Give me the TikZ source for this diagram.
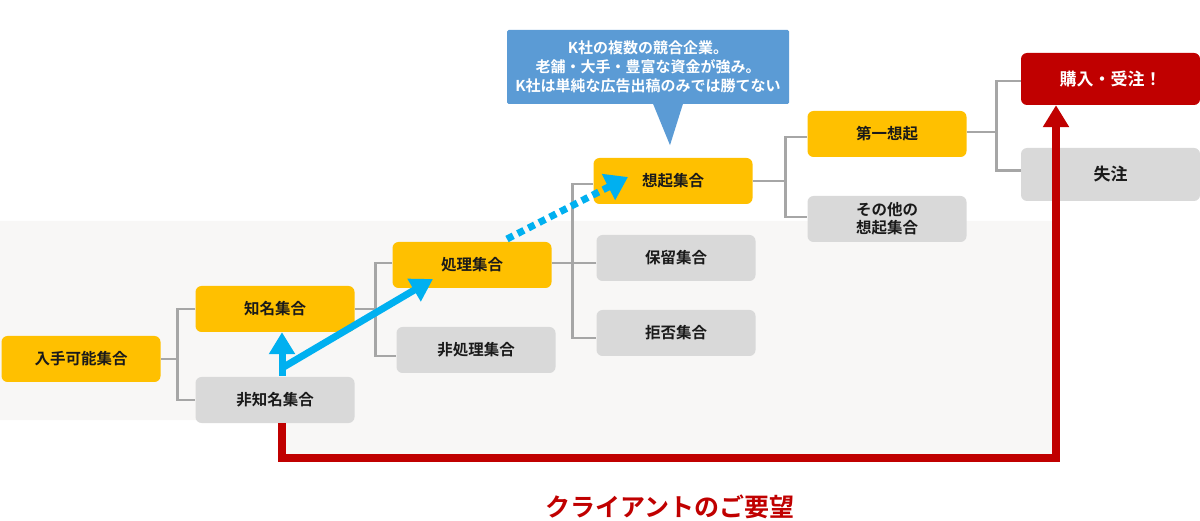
\documentclass[tikz,border=0pt]{standalone}
\usepackage{fontspec}
\setmainfont{Noto Sans CJK JP}[BoldFont={Noto Sans CJK JP Bold}]
\usetikzlibrary{arrows.meta}
\definecolor{ylw}{HTML}{FFC000}
\definecolor{gry}{HTML}{D9D9D9}
\definecolor{lnk}{HTML}{A6A6A6}
\definecolor{rd}{HTML}{C00000}
\definecolor{cyanarr}{HTML}{00B0F0}
\definecolor{calloutblue}{HTML}{5B9BD5}
\definecolor{bgc}{HTML}{F8F7F6}
\definecolor{txt}{HTML}{1A1A1A}
\tikzset{
  boxbase/.style={rectangle, rounded corners=6pt, minimum width=159pt, minimum height=46pt, inner sep=0pt, align=center, font=\fontsize{15.5}{18}\selectfont\bfseries, text=txt},
  ybox/.style={boxbase, fill=ylw},
  gbox/.style={boxbase, fill=gry},
  bigbox/.style={minimum width=179pt, font=\fontsize{17}{20}\selectfont\bfseries},
  rbox/.style={boxbase, bigbox, fill=rd, text=white, minimum height=52pt},
  link/.style={draw=lnk, line width=2.5pt},
  bluearrow/.style={draw=cyanarr, line width=7pt, -{Triangle[width=25pt,length=22pt]}},
}
\begin{document}
\begin{tikzpicture}[x=1pt,y=-1pt]
\useasboundingbox (0,0) rectangle (1200,521);
% background
\fill[bgc] (0,221) -- (1056,221) -- (1056,458) -- (282,458) -- (282,420) -- (0,420) -- cycle;

% nodes
\node[ybox] (avail) at (81,359) {入手可能集合};
\node[ybox] (known) at (275,309) {知名集合};
\node[gbox] (unknown) at (275,400) {非知名集合};
\node[ybox] (proc) at (472,265) {処理集合};
\node[gbox] (nonproc) at (476,350) {非処理集合};
\node[ybox] (recall) at (673,181) {想起集合};
\node[gbox] (hold) at (676,258) {保留集合};
\node[gbox] (reject) at (676,333) {拒否集合};
\node[ybox] (first) at (887,134) {第一想起};
\node[gbox, font=\fontsize{15.5}{18}\selectfont\bfseries] (other) at (887,219) {その他の\\想起集合};
\node[rbox] (buy) at (1110.5,79) {購入・受注！};
\node[gbox, bigbox, minimum height=53pt] (lost) at (1110.5,174.5) {失注};

% tree connectors
\draw[link] (avail.east) -- ++(17,0) coordinate (j1);
\draw[link] (known.west) -| (j1) |- (unknown.west);
\draw[link] (known.east) -- ++(21,0) coordinate (j2);
\draw[link] ([yshift=2pt]proc.west) -| (j2) |- ([yshift=-6pt]nonproc.west);
\draw[link] ([yshift=2pt]proc.east) -- ++(21,0) coordinate (j3);
\draw[link] ([yshift=-3pt]recall.west) -| (j3) |- ([yshift=-5pt]reject.west);
\draw[link] ([yshift=-5pt]hold.west) -| (j3);
\draw[link] (recall.east) -- ++(33,0) coordinate (j4);
\draw[link] ([yshift=-3pt]first.west) -| (j4) |- ([yshift=2pt]other.west);
\draw[link] ([yshift=2pt]first.east) -- ++(30,0) coordinate (j5);
\draw[link] ([yshift=-2pt]buy.west) -| (j5) |- ([yshift=4pt]lost.west);

% callout
\node[fill=calloutblue, rounded corners=1.5pt, minimum width=282pt, minimum height=74pt, inner sep=0pt, align=center, text=white, font=\fontsize{15}{19}\selectfont\bfseries] (note) at (648,67) {K社の複数の競合企業。\\老舗・大手・豊富な資金が強み。\\K社は単純な広告出稿のみでは勝てない};
\fill[calloutblue] ([xshift=5pt,yshift=0.5pt]note.south) -- ([xshift=22pt,yshift=-41pt]note.south) -- ([xshift=35pt,yshift=0.5pt]note.south) -- cycle;

% blue arrows
\coordinate (b0) at (282,376);
\coordinate (b1) at (282,368);
\coordinate (t1) at (433,279);
\coordinate (d0) at (507,239);
\coordinate (t2) at (628,177);
\draw[bluearrow] (b0) -- (b0 |- known.south);
\draw[bluearrow] (b1) -- (t1);
\draw[draw=cyanarr, line width=7pt, dash pattern=on 7pt off 5pt, -{Triangle[width=28pt,length=22pt]}] (d0) -- (t2);

% red arrow
\coordinate (r1) at (282,458);
\coordinate (r2) at (1056,458);
\draw[draw=rd, line width=8pt, line join=miter, -{Triangle[width=25pt,length=22pt]}] (r1 |- unknown.south) -- (r1) -- (r2) -- (r2 |- buy.south);

% bottom label
\node[text=rd, font=\fontsize{25}{28}\selectfont\bfseries, inner sep=0pt] (wish) at (670,507) {クライアントのご要望};
\end{tikzpicture}
\end{document}
